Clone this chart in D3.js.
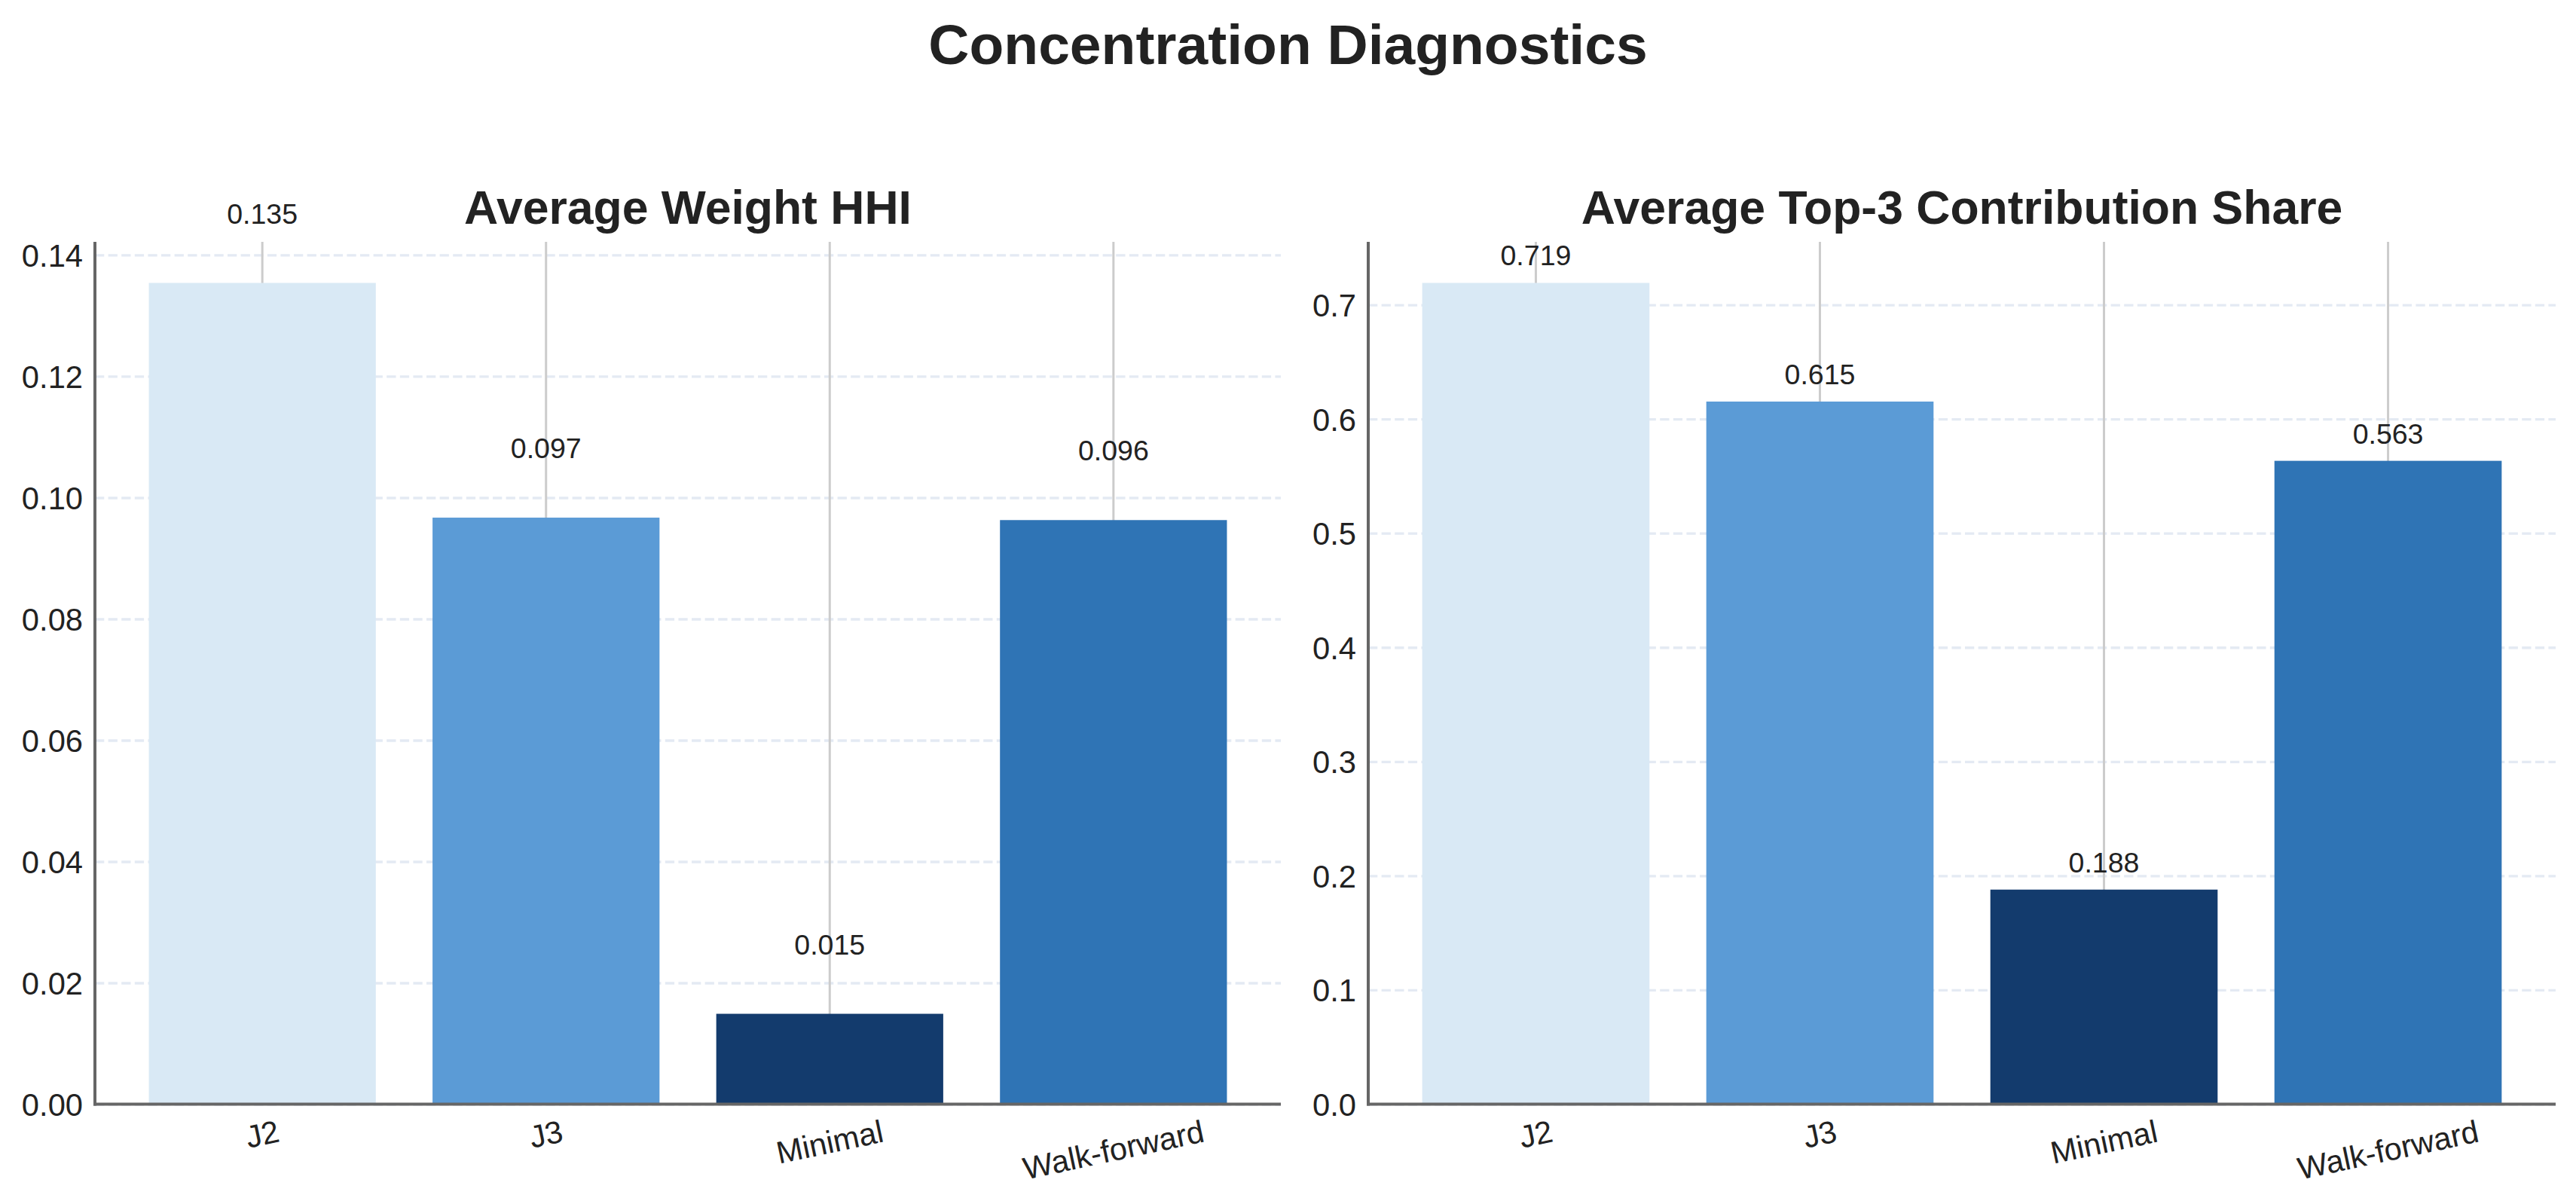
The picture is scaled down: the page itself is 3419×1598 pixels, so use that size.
<!DOCTYPE html>
<html>
<head>
<meta charset="utf-8">
<script src="https://cdn.jsdelivr.net/npm/d3@7"></script>
<style>
  body { margin: 0; background: #fff; }
  svg { display: block; font-family: "Liberation Sans", Arial, sans-serif; }
</style>
</head>
<body>
<div id="chart"></div>
<script>
// data
const categories = ['J2', 'J3', 'Minimal', 'Walk-forward'];
const hhiValues = [0.1354, 0.0967, 0.0149, 0.0963];
const top3Values = [0.7192, 0.6153, 0.1879, 0.5634];
const hhiTicks = [0, 0.02, 0.04, 0.06, 0.08, 0.10, 0.12, 0.14];
const top3Ticks = [0, 0.1, 0.2, 0.3, 0.4, 0.5, 0.6, 0.7];
const barColors = ['#d9e9f5', '#5b9bd6', '#133b6d', '#2f74b5'];

const W = 3419, H = 1598;
const TOP = 321, BOTTOM = 1465.5;
const TICK_FS = 41.7, VAL_FS = 37.5, SUB_FS = 62.5, MAIN_FS = 75;
const ROT = 12; // degrees, x tick labels
const textColor = '#222';

const svg = d3.select('#chart').append('svg')
  .attr('width', W)
  .attr('height', H)
  .style('background-color', '#fff');

svg.append('text')
  .attr('x', W / 2)
  .attr('y', 85)
  .attr('text-anchor', 'middle')
  .attr('font-size', MAIN_FS)
  .attr('font-weight', 'bold')
  .attr('fill', textColor)
  .text('Concentration Diagnostics');

function drawPanel(opts) {
  let x0 = opts.x0, x1 = opts.x1;
  let g = svg.append('g');

  let xscale = d3.scaleBand()
    .domain(categories)
    .range([x0, x1])
    .paddingInner(0.2)
    .paddingOuter(0.19);

  let ymax = d3.max(opts.values) * 1.05;
  let yscale = d3.scaleLinear()
    .domain([0, ymax])
    .range([BOTTOM, TOP]);

  // horizontal grid (dashed), behind bars
  g.append('g')
    .attr('transform', 'translate(' + x0 + ' 0)')
    .call(d3.axisLeft(yscale)
      .tickValues(opts.ticks)
      .tickSize(-(x1 - x0))
      .tickFormat(''))
    .call(s => s.select('.domain').remove())
    .selectAll('line')
      .attr('stroke', '#e4eaf3')
      .attr('stroke-width', 3.3)
      .attr('stroke-dasharray', '12.3 5.3');

  // vertical grid at bar centres
  g.append('g')
    .selectAll('line')
    .data(categories)
    .enter()
    .append('line')
      .attr('x1', d => xscale(d) + xscale.bandwidth() / 2)
      .attr('x2', d => xscale(d) + xscale.bandwidth() / 2)
      .attr('y1', TOP)
      .attr('y2', BOTTOM)
      .attr('stroke', '#cccccc')
      .attr('stroke-width', 3);

  // bars
  g.append('g')
    .selectAll('rect')
    .data(opts.values)
    .enter()
    .append('rect')
      .attr('x', (d, i) => xscale(categories[i]))
      .attr('width', xscale.bandwidth())
      .attr('y', d => yscale(d))
      .attr('height', d => BOTTOM - yscale(d))
      .attr('fill', (d, i) => barColors[i]);

  // value labels
  g.append('g')
    .selectAll('text')
    .data(opts.values)
    .enter()
    .append('text')
      .attr('x', (d, i) => xscale(categories[i]) + xscale.bandwidth() / 2)
      .attr('y', d => yscale(d + opts.labelOffset))
      .attr('text-anchor', 'middle')
      .attr('font-size', VAL_FS)
      .attr('fill', textColor)
      .text(d => d3.format('.3f')(d));

  // y axis labels
  let yax = g.append('g')
    .attr('transform', 'translate(' + x0 + ' 0)')
    .call(d3.axisLeft(yscale)
      .tickValues(opts.ticks)
      .tickSize(0)
      .tickPadding(16)
      .tickFormat(d3.format(opts.fmt)));
  yax.select('.domain').remove();
  yax.selectAll('text')
    .attr('font-size', TICK_FS)
    .attr('font-family', '"Liberation Sans", Arial, sans-serif')
    .attr('fill', textColor)
    .attr('dy', '0.36em');

  // x axis labels, rotated, bbox top at fixed distance below axis
  let xax = g.append('g')
    .attr('transform', 'translate(0 ' + BOTTOM + ')')
    .call(d3.axisBottom(xscale).tickSize(0));
  xax.select('.domain').remove();
  let th = ROT * Math.PI / 180;
  xax.selectAll('text')
    .attr('font-size', TICK_FS)
    .attr('font-family', '"Liberation Sans", Arial, sans-serif')
    .attr('fill', textColor)
    .attr('text-anchor', 'middle')
    .attr('y', null)
    .attr('dy', '0.3465em')
    .each(function() {
      let w = this.getComputedTextLength();
      let h = 1.117 * TICK_FS;
      let cy = 12.5 + (w * Math.sin(th) + h * Math.cos(th)) / 2;
      d3.select(this).attr('transform', 'translate(0 ' + cy + ') rotate(' + (-ROT) + ')');
    });

  // spines
  g.append('line')
    .attr('x1', x0).attr('x2', x0)
    .attr('y1', TOP).attr('y2', BOTTOM + 2)
    .attr('stroke', '#666').attr('stroke-width', 4);
  g.append('line')
    .attr('x1', x0 - 2).attr('x2', x1)
    .attr('y1', BOTTOM).attr('y2', BOTTOM)
    .attr('stroke', '#666').attr('stroke-width', 4);

  // title
  g.append('text')
    .attr('x', (x0 + x1) / 2)
    .attr('y', 297)
    .attr('text-anchor', 'middle')
    .attr('font-size', SUB_FS)
    .attr('font-weight', 'bold')
    .attr('fill', textColor)
    .text(opts.title);
}

drawPanel({
  x0: 126, x1: 1700,
  values: hhiValues, ticks: hhiTicks, fmt: '.2f',
  labelOffset: 0.0098,
  title: 'Average Weight HHI'
});
drawPanel({
  x0: 1816, x1: 3392,
  values: top3Values, ticks: top3Ticks, fmt: '.1f',
  labelOffset: 0.0152,
  title: 'Average Top-3 Contribution Share'
});
</script>
</body>
</html>
